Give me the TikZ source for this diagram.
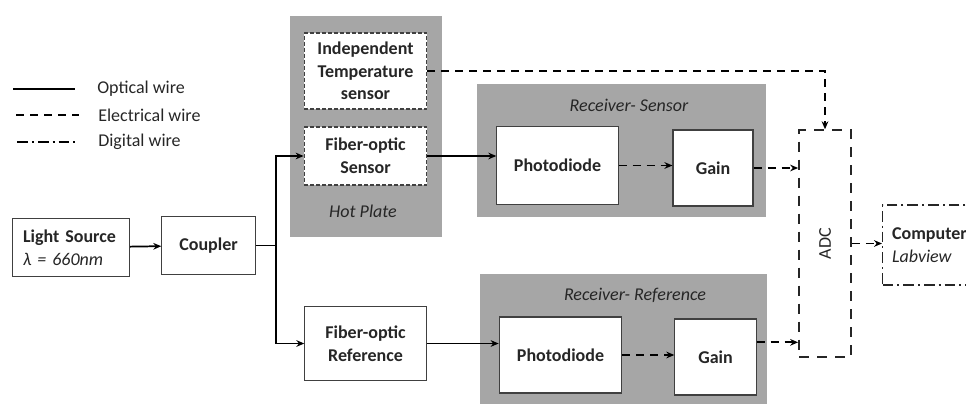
\documentclass[tikz,border=0pt]{standalone}
\usepackage{fontspec}
\setmainfont{Carlito}
\usetikzlibrary{arrows.meta,positioning}
\definecolor{plategray}{RGB}{166,166,166}
\definecolor{inkgray}{RGB}{64,64,64}
\newcommand{\lblsize}{\fontsize{13.5}{17}\selectfont}

\begin{document}
\begin{tikzpicture}[x=0.75pt,y=-0.75pt,>={Stealth[length=6pt,width=5pt]},
  node font=\lblsize,text=black!85,
  blk/.style={draw=inkgray,fill=white,line width=0.8pt,font=\bfseries,align=center,inner sep=2pt},
  dblk/.style={blk,dash pattern=on 3pt off 1.5pt},
  optic/.style={line width=1.3pt},
  elec/.style={line width=1.3pt,dash pattern=on 6pt off 4.5pt},
  digi/.style={line width=1.1pt,dash pattern=on 8pt off 3pt on 1.5pt off 3pt}]
  \useasboundingbox (0,0) rectangle (966,403);
  \clip (0,0) rectangle (966,403);

  % legend
  \node[anchor=west] (lgopt) at (91,89) {Optical wire};
  \node[anchor=west] (lgelec) at (92,115) {Electrical wire};
  \node[anchor=west] (lgdig) at (92,142) {Digital wire};
  \draw[optic,line width=1.7pt] ([xshift=-58.5pt]lgopt.west) -- ([xshift=-12pt]lgopt.west);
  \draw[elec] ([xshift=-57pt]lgelec.west) -- ([xshift=-10pt]lgelec.west);
  \draw[digi,line width=1.3pt] ([xshift=-56pt]lgdig.west) -- ([xshift=-11pt]lgdig.west);

  % grey panels
  \fill[plategray] (290,16) rectangle (442,237);
  \fill[plategray] (477,84) rectangle (766,217);
  \fill[plategray] (480,274) rectangle (767,410);

  \node[blk,align=left,text width=72pt,inner xsep=8pt,minimum height=44pt] (light) at (71,247.5)
    {Light Source\\{\mdseries\itshape λ = 660nm}};
  \node[blk,minimum width=70pt,minimum height=44pt] (coupler) at (208.5,245.5) {Coupler};

  \node[dblk,minimum width=92pt,minimum height=57pt] (tempsens) at (365.5,71) {Independent\\Temperature\\sensor};
  \node[dblk,minimum width=92pt,minimum height=43.5pt] (fosens) at (365.5,156) {Fiber-optic\\Sensor};
  \node[font=\itshape] (plate) at (363,211) {Hot Plate};
  \node[blk,minimum width=91pt,minimum height=55pt] (foref) at (365.5,343.5) {Fiber-optic\\Reference};

  \node[font=\itshape] (rxsens) at (629,105) {Receiver- Sensor};
  \node[blk,minimum width=91pt,minimum height=58pt] (pdsens) at (557.5,165.5) {Photodiode};
  \node[blk,minimum width=60pt,minimum height=57pt] (gainsens) at (713,168) {Gain};

  \node[font=\itshape] (rxref) at (635,295) {Receiver- Reference};
  \node[blk,minimum width=92pt,minimum height=57pt] (pdref) at (560.5,355) {Photodiode};
  \node[blk,minimum width=61pt,minimum height=57pt] (gainref) at (715.5,357) {Gain};

  \node[draw=black!85,line width=1.3pt,dash pattern=on 7.5pt off 6pt,minimum width=39pt,minimum height=170pt]
    (adc) at (825,243.5) {\rotatebox{90}{ADC}};
  \node[digi,draw=black!85,anchor=west,align=left,text width=70pt,inner xsep=7pt,minimum height=60pt]
    (pc) at (882,245) {\textbf{Computer}\\\textit{Labview}};

  % optical path
  \coordinate[right=15pt of coupler.east] (split);
  \draw[optic,->] (light) -- (coupler);
  \draw[optic] (coupler) -- (split);
  \draw[optic,->] (split) |- (fosens);
  \draw[optic,->] (split) |- (foref);
  \draw[optic,->] (fosens) -- (fosens -| pdsens.west);
  \draw[optic,->] (foref) -- (foref -| pdref.west);

  % electrical path
  \draw[elec,->] (pdsens) -- (pdsens -| gainsens.west);
  \draw[elec,->] (gainsens) -- (gainsens -| adc.west);
  \draw[elec,->] (pdref) -- (pdref -| gainref.west);
  \draw[elec,->] ([yshift=11pt]gainref.east) -- ([yshift=11pt]gainref.east -| adc.west);
  \draw[elec,->] (tempsens) -| (adc);
  \draw[elec,->] (adc) -- (adc -| pc.west);
\end{tikzpicture}
\end{document}
